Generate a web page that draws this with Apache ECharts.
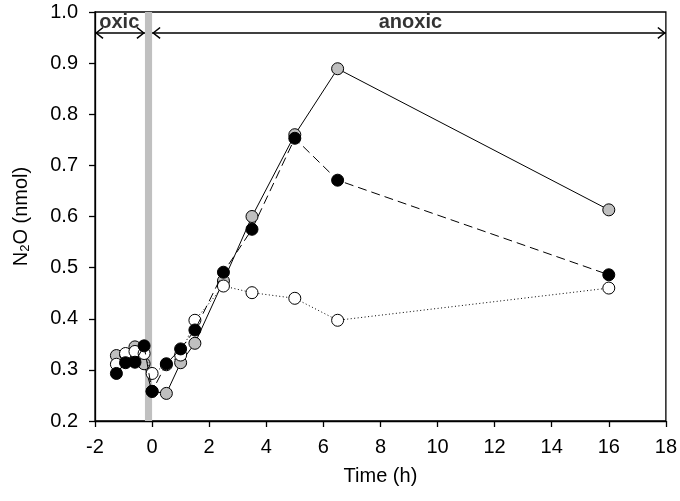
<!DOCTYPE html>
<html>
<head>
<meta charset="utf-8">
<script src="https://cdn.jsdelivr.net/npm/echarts@6/dist/echarts.min.js"></script>
<style>
html,body{margin:0;padding:0;background:#fff;}
#c{width:680px;height:501px;}
</style>
</head>
<body>
<div id="c"></div>
<script>
var time = [-1.25, -0.93, -0.6, -0.28, 0, 0.5, 1, 1.5, 2.5, 3.5, 5, 6.5, 16];
var graySeries = [0.328, 0.330, 0.345, 0.312, 0.258, 0.254, 0.314, 0.352, 0.474, 0.600, 0.760, 0.889, 0.613];
var blackSeries = [0.293, 0.314, 0.315, 0.347, 0.258, 0.312, 0.341, 0.378, 0.491, 0.575, 0.753, 0.671, 0.486];
var whiteSeries = [0.311, 0.332, 0.336, 0.332, 0.293, 0.310, 0.329, 0.397, 0.464, 0.451, 0.440, 0.397, 0.460];
var bandRange = [-0.25, 0];
var oxicArrow = [-2, -0.25];
var anoxicArrow = [0, 18];
var arrowY = 0.959;
var labelY = 0.979;
var phaseLabels = ['oxic', 'anoxic'];
var phaseLabelX = [-1.15, 9.05];

function pairs(xs, ys){ return xs.map(function(x,i){ return [x, ys[i]]; }); }

// open chevron whose apex sits at the symbol centre (tiny dot extends the box upward)
var chevron = 'path://M0,0 L7,8.5 L5.7,9.6 L0,2.6 L-5.7,9.6 L-7,8.5 Z M-0.01,-9.6 L0.01,-9.6 L0,-9.59 Z';
var FONT = '"Liberation Sans", Arial, sans-serif';

var chart = echarts.init(document.getElementById('c'), null, {renderer:'canvas'});
chart.setOption({
  animation: false,
  backgroundColor: '#fff',
  grid: {left: 95, right: 11, top: 12, bottom: 80, show: true, borderColor: '#000', borderWidth: 1.3},
  xAxis: {
    type: 'value', min: -2, max: 18, interval: 2,
    name: 'Time (h)', nameLocation: 'middle', nameGap: 45,
    nameTextStyle: {fontFamily: FONT, fontSize: 20, color: '#000'},
    axisLine: {show: true, onZero: false, lineStyle: {color: '#000', width: 1.3}},
    axisTick: {show: true, length: 6, inside: false, lineStyle: {color: '#000', width: 1.3}},
    axisLabel: {fontFamily: FONT, fontSize: 20, color: '#000', margin: 16},
    splitLine: {show: false}
  },
  yAxis: {
    type: 'value', min: 0.2, max: 1.0, interval: 0.1,
    name: '{a|N}{s|2}{a|O (nmol)}', nameLocation: 'middle', nameGap: 63, nameRotate: 90,
    nameTextStyle: {rich: {
      a: {fontFamily: FONT, fontSize: 20, color: '#000'},
      s: {fontFamily: FONT, fontSize: 13, color: '#000', verticalAlign: 'bottom', padding: [9,0,0,0]}
    }},
    axisLine: {show: true, onZero: false, lineStyle: {color: '#000', width: 1.3}},
    axisTick: {show: true, length: 6, inside: false, lineStyle: {color: '#000', width: 1.3}},
    axisLabel: {fontFamily: FONT, fontSize: 20, color: '#000', margin: 17,
      formatter: function(v){ return v.toFixed(1); }},
    splitLine: {show: false}
  },
  series: [
    {
      type: 'line', name: 'gray', data: pairs(time, graySeries),
      symbol: 'circle', symbolSize: 12, z: 3,
      lineStyle: {color: '#000', width: 1, type: 'solid'},
      itemStyle: {color: '#bfbfbf', borderColor: '#000', borderWidth: 1},
      markArea: {
        silent: true, z: 1,
        itemStyle: {color: '#c0c0c0'},
        data: [[{xAxis: bandRange[0]}, {xAxis: bandRange[1]}]]
      },
      markLine: {
        silent: true, symbol: [chevron, chevron], symbolSize: [12, 17],
        lineStyle: {color: '#000', width: 1.5, type: 'solid'},
        label: {show: false},
        data: [
          [{coord: [oxicArrow[0], arrowY]}, {coord: [oxicArrow[1], arrowY]}],
          [{coord: [anoxicArrow[0], arrowY]}, {coord: [anoxicArrow[1], arrowY]}]
        ]
      }
    },
    {
      type: 'line', name: 'white', data: pairs(time, whiteSeries),
      symbol: 'circle', symbolSize: 12, z: 4,
      lineStyle: {color: '#000', width: 1, type: [1, 2.5]},
      itemStyle: {color: '#fff', borderColor: '#000', borderWidth: 1}
    },
    {
      type: 'line', name: 'black', data: pairs(time, blackSeries),
      symbol: 'circle', symbolSize: 12, z: 5,
      lineStyle: {color: '#000', width: 1, type: [9, 5]},
      itemStyle: {color: '#000', borderColor: '#000', borderWidth: 1}
    },
    {
      type: 'scatter', name: 'labels', symbolSize: 0, silent: true,
      data: phaseLabels.map(function(t,i){ return {value: [phaseLabelX[i], labelY], name: t}; }),
      label: {show: true, position: 'inside', formatter: '{b}',
        fontFamily: FONT, fontSize: 20, fontWeight: 'bold', color: '#000'}
    }
  ]
});
</script>
</body>
</html>
